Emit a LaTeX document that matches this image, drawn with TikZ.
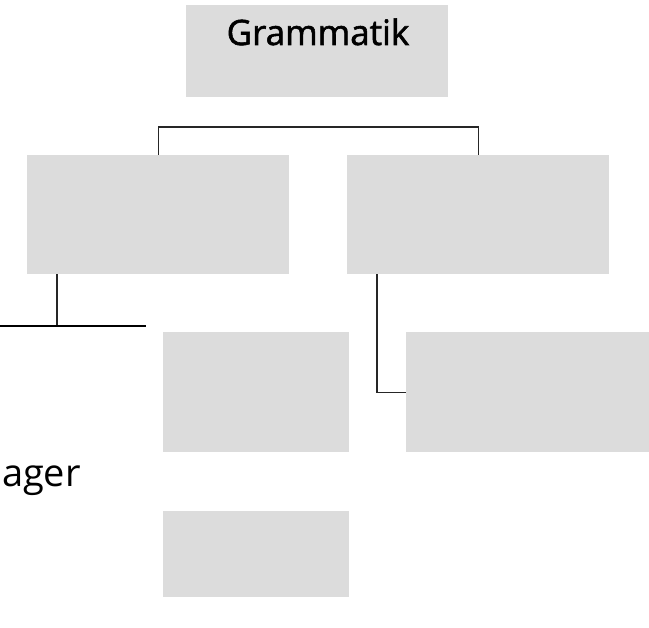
\documentclass[tikz,border=0pt]{standalone}
\usepackage{fontspec}
\setmainfont{Open Sans}
\newfontfamily\semibfont{Open Sans}[FakeBold=1.6]
\begin{document}
\begin{tikzpicture}[x=1pt,y=-1pt,
  gbox/.style={rectangle,fill=boxgray,draw=none,inner sep=0pt,anchor=north west},
  conn/.style={line width=1.3pt,black!85},
  thick conn/.style={line width=2.6pt,black}]
\definecolor{boxgray}{HTML}{DCDCDC}
\useasboundingbox (0,0) rectangle (649,628);
\node[gbox,minimum width=262pt,minimum height=92pt] (G) at (186,5) {};
\node[anchor=base,font=\fontsize{35}{40}\semibfont,inner sep=0pt] (Gt) at (318,45) {Grammatik};
\node[gbox,minimum width=262pt,minimum height=119pt] (L) at (27,155) {};
\node[gbox,minimum width=262pt,minimum height=119pt] (R) at (347,155) {};
\node[gbox,minimum width=186pt,minimum height=120pt] (M1) at (163,332) {};
\node[gbox,minimum width=243pt,minimum height=120pt] (RR) at (406,332) {};
\node[gbox,minimum width=186pt,minimum height=86pt] (M2) at (163,511) {};
\node[anchor=base east,font=\fontsize{38}{42}\selectfont,inner sep=0pt] (ag) at (81,487) {ager};
\coordinate (bar) at (0,127);
\draw[conn] (L.north) -- (L.north |- bar) -- (R.north |- bar) -- (R.north);
\coordinate (lj) at (57,326);
\coordinate (ha) at (0,326);
\coordinate (hb) at (146,326);
\draw[conn] (lj |- L.south) -- (lj);
\draw[thick conn] (ha) -- (hb);
\coordinate (rv) at (377,0);
\draw[conn] (rv |- R.south) |- (RR.west);
\end{tikzpicture}
\end{document}
